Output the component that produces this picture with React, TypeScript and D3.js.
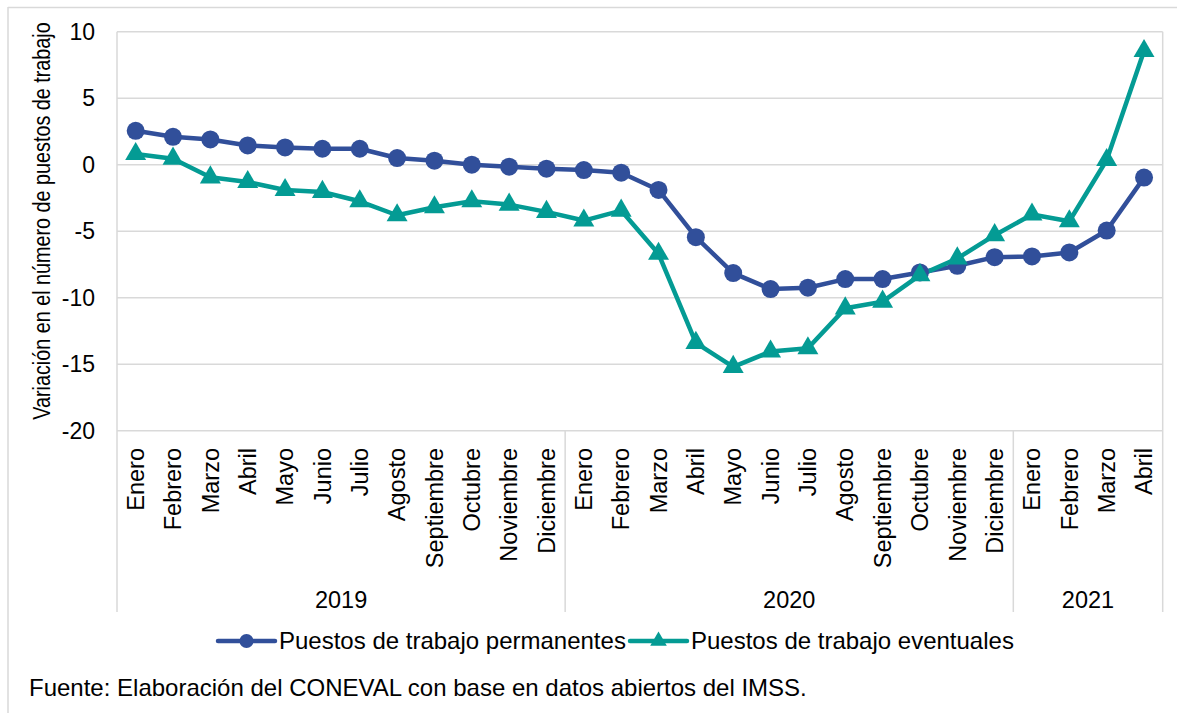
import React from "react";
import * as d3 from "d3";

const months = ["Enero","Febrero","Marzo","Abril","Mayo","Junio","Julio","Agosto","Septiembre","Octubre","Noviembre","Diciembre"];
const categories: string[] = [...months, ...months, "Enero", "Febrero", "Marzo", "Abril"];
const years = ["2019", "2020", "2021"];
const yearCounts = [12, 12, 4];
const permanentes = [2.55, 2.1, 1.9, 1.45, 1.3, 1.2, 1.2, 0.5, 0.3, 0.0, -0.15, -0.3, -0.4, -0.6, -1.9, -5.45, -8.15, -9.35, -9.25, -8.6, -8.6, -8.1, -7.6, -6.95, -6.9, -6.6, -4.95, -0.97];
const eventuales = [0.8, 0.45, -0.95, -1.3, -1.9, -2.05, -2.75, -3.8, -3.2, -2.75, -3.0, -3.55, -4.2, -3.45, -6.7, -13.4, -15.2, -14.05, -13.8, -10.8, -10.3, -8.3, -7.05, -5.3, -3.75, -4.25, 0.35, 8.55];
const yTicks = [10, 5, 0, -5, -10, -15, -20];
const seriesNames = ["Puestos de trabajo permanentes", "Puestos de trabajo eventuales"];
const yTitle = "Variación en el número de puestos de trabajo";
const source = "Fuente: Elaboración del CONEVAL con base en datos abiertos del IMSS.";

const BLUE = "#314f9a";
const TEAL = "#049b94";
const GRID = "#d9d9d9";
const FONT = "'Liberation Sans', Arial, sans-serif";

export default function App() {
  const W = 1177, H = 713;
  const x0 = 117, x1 = 1162.7, yTop = 31.7, yBot = 430.7, sepBottom = 612;
  const idx = categories.map((_, i) => String(i));
  const x = d3.scaleBand<string>().domain(idx).range([x0, x1]).paddingInner(0).paddingOuter(0);
  const bw = x.bandwidth();
  const cx = (i: number) => (x(String(i)) as number) + bw / 2;
  const y = d3.scaleLinear().domain([-20, 10]).range([yBot, yTop]);

  const line = d3.line<number>().x((_, i) => cx(i)).y((d) => y(d));
  const tri = d3.symbol().type(d3.symbolTriangle).size(190)();
  const triLeg = d3.symbol().type(d3.symbolTriangle).size(120)();

  const bounds: number[] = [0];
  yearCounts.forEach((c) => bounds.push(bounds[bounds.length - 1] + c));
  const edgeX = (k: number) => (k >= categories.length ? x1 : (x(String(k)) as number));

  return (
    <svg width={W} height={H} style={{ display: "block", position: "absolute", left: 0, top: 0 }} fontFamily={FONT}>
      <rect x={0} y={0} width={W} height={H} fill="#fff" />
      <line x1={8} x2={W} y1={7.5} y2={7.5} stroke={GRID} strokeWidth={1.5} />
      <line x1={8} x2={8} y1={7} y2={H} stroke={GRID} strokeWidth={1.5} />
      {yTicks.map((t) => (
        <line key={t} x1={x0} x2={x1} y1={y(t)} y2={y(t)} stroke={GRID} strokeWidth={1.5} />
      ))}
      {bounds.map((b, k) => {
        const xx = edgeX(b);
        const top = k === 0 || k === bounds.length - 1 ? yTop : yBot;
        return <line key={k} x1={xx} x2={xx} y1={top} y2={sepBottom} stroke={GRID} strokeWidth={1.5} />;
      })}
      {yTicks.map((t) => (
        <text key={t} x={95} y={y(t)} dy="0.35em" textAnchor="end" fontSize={23} fill="#000">{t}</text>
      ))}
      <text transform={`translate(50,221) rotate(-90) scale(0.86,1)`} textAnchor="middle" fontSize={23} fill="#000">{yTitle}</text>
      {categories.map((c, i) => (
        <text key={i} transform={`translate(${cx(i)},448) rotate(-90)`} textAnchor="end" dy="0.35em" fontSize={23.5} fill="#000">{c}</text>
      ))}
      {years.map((yr, k) => (
        <text key={yr} x={(edgeX(bounds[k]) + edgeX(bounds[k + 1])) / 2} y={600} dy="0.35em" textAnchor="middle" fontSize={23.5} fill="#000">{yr}</text>
      ))}
      <path d={line(permanentes) || ""} fill="none" stroke={BLUE} strokeWidth={4.5} strokeLinejoin="round" />
      <path d={line(eventuales) || ""} fill="none" stroke={TEAL} strokeWidth={4.5} strokeLinejoin="round" />
      {permanentes.map((v, i) => (
        <circle key={i} cx={cx(i)} cy={y(v)} r={9} fill={BLUE} />
      ))}
      {eventuales.map((v, i) => (
        <path key={i} d={tri || ""} transform={`translate(${cx(i)},${y(v)})`} fill={TEAL} />
      ))}
      <g>
        <line x1={218} x2={275} y1={641} y2={641} stroke={BLUE} strokeWidth={4.5} strokeLinecap="round" />
        <circle cx={246.5} cy={641} r={7} fill={BLUE} />
        <text x={279} y={641} dy="0.35em" fontSize={24} fill="#000">{seriesNames[0]}</text>
        <line x1={630} x2={687} y1={641} y2={641} stroke={TEAL} strokeWidth={4.5} strokeLinecap="round" />
        <path d={triLeg || ""} transform={`translate(658.5,641)`} fill={TEAL} />
        <text x={691} y={641} dy="0.35em" fontSize={24} fill="#000">{seriesNames[1]}</text>
      </g>
      <text x={29} y={688} dy="0.35em" fontSize={24} fill="#000">{source}</text>
    </svg>
  );
}
